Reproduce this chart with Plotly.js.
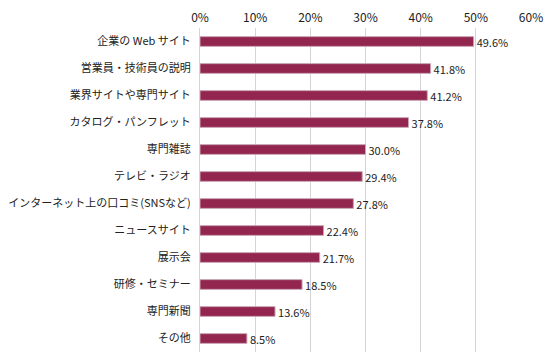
<!DOCTYPE html>
<html><head><meta charset="utf-8">
<script src="https://cdn.plot.ly/plotly-3.0.1.min.js"></script>
<style>body{margin:0;padding:0;background:#fff}#chart{width:548px;height:356px}</style>
</head><body><div id="chart"></div>
<script>
const categories = ["企業の Web サイト","営業員・技術員の説明","業界サイトや専門サイト","カタログ・パンフレット","専門雑誌","テレビ・ラジオ","インターネット上の口コミ(SNSなど)","ニュースサイト","展示会","研修・セミナー","専門新聞","その他"];
const values = [49.6,41.8,41.2,37.8,30.0,29.4,27.8,22.4,21.7,18.5,13.6,8.5];
const tickVals = [0,10,20,30,40,50,60];
const tickText = ["0%","10%","20%","30%","40%","50%","60%"];

const trace = {
  type:"bar", orientation:"h",
  x: values, y: categories,
  marker:{color:"#93264f", line:{color:"#c9a3b3", width:1}},
  width:0.36,
  text: values.map(v=>v.toFixed(1)+"%"),
  textposition:"outside", cliponaxis:false,
  textfont:{family:"Noto Sans CJK JP, sans-serif", size:11, color:"#222"},
  hoverinfo:"none"
};
const layout = {
  width:548, height:356,
  margin:{l:200,r:17,t:28,b:4},
  paper_bgcolor:"#fff", plot_bgcolor:"#fff",
  showlegend:false,
  uniformtext:{minsize:11, mode:"show"},
  font:{family:"Noto Sans CJK JP, sans-serif", color:"#222"},
  xaxis:{range:[0,60], side:"top", tickvals:tickVals, ticktext:tickText,
    showgrid:true, gridcolor:"#d4d4d4", gridwidth:1, zeroline:false,
    showline:false, ticks:"", tickfont:{size:12,color:"#222"}, ticklabelstandoff:3, fixedrange:true},
  yaxis:{categoryorder:"array", categoryarray:categories.slice().reverse(),
    autorange:true, showgrid:false, zeroline:false,
    showline:true, linecolor:"#d4d4d4", linewidth:1, ticks:"",
    tickfont:{size:11,color:"#222"}, ticklabelstandoff:6, fixedrange:true}
};
Plotly.newPlot("chart",[trace],layout,{staticPlot:true});
</script></body></html>
